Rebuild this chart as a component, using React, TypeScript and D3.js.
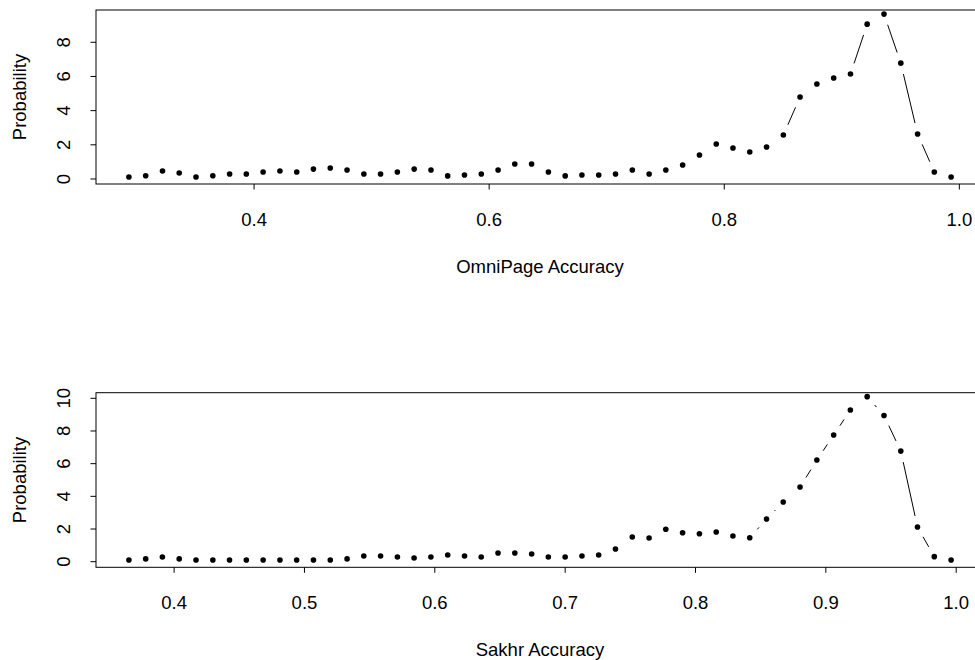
import React from "react";
import * as d3 from "d3";

// ---- Data ----
const omniX = [
  0.2935, 0.3078, 0.3221, 0.3363, 0.3506, 0.3649, 0.3792, 0.3934, 0.4077, 0.4220,
  0.4363, 0.4505, 0.4648, 0.4791, 0.4934, 0.5076, 0.5219, 0.5362, 0.5505, 0.5647,
  0.5790, 0.5933, 0.6076, 0.6218, 0.6361, 0.6504, 0.6647, 0.6789, 0.6932, 0.7075,
  0.7218, 0.7361, 0.7503, 0.7646, 0.7789, 0.7932, 0.8074, 0.8217, 0.8360, 0.8503,
  0.8645, 0.8788, 0.8931, 0.9074, 0.9216, 0.9359, 0.9502, 0.9645, 0.9787, 0.9930,
];
const omniY = [
  0.12, 0.19, 0.47, 0.35, 0.12, 0.19, 0.29, 0.29, 0.41, 0.47,
  0.41, 0.58, 0.64, 0.53, 0.29, 0.29, 0.41, 0.58, 0.53, 0.18,
  0.23, 0.29, 0.53, 0.88, 0.88, 0.41, 0.18, 0.23, 0.23, 0.29,
  0.53, 0.29, 0.53, 0.82, 1.40, 2.05, 1.81, 1.58, 1.87, 2.57,
  4.80, 5.56, 5.91, 6.14, 9.06, 9.65, 6.78, 2.63, 0.41, 0.12,
];
const sakhrX = [
  0.3653, 0.3782, 0.3910, 0.4039, 0.4168, 0.4297, 0.4425, 0.4554, 0.4683, 0.4812,
  0.4940, 0.5069, 0.5198, 0.5327, 0.5455, 0.5584, 0.5713, 0.5841, 0.5970, 0.6099,
  0.6228, 0.6356, 0.6485, 0.6614, 0.6743, 0.6871, 0.7000, 0.7129, 0.7257, 0.7386,
  0.7515, 0.7644, 0.7772, 0.7901, 0.8030, 0.8159, 0.8287, 0.8416, 0.8545, 0.8673,
  0.8802, 0.8931, 0.9060, 0.9188, 0.9317, 0.9446, 0.9575, 0.9703, 0.9832, 0.9961,
];
const sakhrY = [
  0.10, 0.17, 0.29, 0.17, 0.10, 0.10, 0.10, 0.10, 0.10, 0.10,
  0.10, 0.10, 0.10, 0.17, 0.35, 0.35, 0.29, 0.23, 0.29, 0.41,
  0.35, 0.29, 0.53, 0.53, 0.47, 0.29, 0.29, 0.35, 0.41, 0.78,
  1.51, 1.45, 1.99, 1.77, 1.71, 1.82, 1.57, 1.47, 2.61, 3.65,
  4.57, 6.22, 7.75, 9.28, 10.1, 8.95, 6.77, 2.12, 0.31, 0.10,
];
const omniXTicks = [0.4, 0.6, 0.8, 1.0];
const omniYTicks = [0, 2, 4, 6, 8];
const sakhrXTicks = [0.4, 0.5, 0.6, 0.7, 0.8, 0.9, 1.0];
const sakhrYTicks = [0, 2, 4, 6, 8, 10];

const W = 975;
const H = 660;
const FONT = "'Liberation Sans', Arial, Helvetica, sans-serif";
const FS = 18.5;

type PanelProps = {
  xs: number[];
  ys: number[];
  xTicks: number[];
  yTicks: number[];
  yDomain: [number, number];
  top: number;
  bottom: number;
  xLabel: string;
};

const LEFT = 96;
const RIGHT = 984;
const GAP = 11.25;

function Panel({ xs, ys, xTicks, yTicks, yDomain, top, bottom, xLabel }: PanelProps) {
  const [x0, x1] = d3.extent(xs) as [number, number];
  const pad = (x1 - x0) * 0.04;
  const x = d3.scaleLinear().domain([x0 - pad, x1 + pad]).range([LEFT, RIGHT]);
  const y = d3.scaleLinear().domain(yDomain).range([bottom, top]);
  const pts = xs.map((v, i) => [x(v), y(ys[i])] as [number, number]);
  const segs: string[] = [];
  for (let i = 0; i < pts.length - 1; i++) {
    const [ax, ay] = pts[i];
    const [bx, by] = pts[i + 1];
    const dx = bx - ax;
    const dy = by - ay;
    const d = Math.hypot(dx, dy);
    if (d > 2 * GAP) {
      const ux = dx / d;
      const uy = dy / d;
      const p = d3.path();
      p.moveTo(ax + ux * GAP, ay + uy * GAP);
      p.lineTo(bx - ux * GAP, by - uy * GAP);
      segs.push(p.toString());
    }
  }
  const fmtX = d3.format(".1f");
  const midY = (top + bottom) / 2;
  const midX = (LEFT + RIGHT) / 2;
  return (
    <g>
      <rect x={LEFT} y={top} width={RIGHT - LEFT} height={bottom - top} fill="none" stroke="#000" strokeWidth={1} />
      {segs.map((s, i) => (
        <path key={"s" + i} d={s} stroke="#000" strokeWidth={1} fill="none" />
      ))}
      {pts.map(([px, py], i) => (
        <circle key={"p" + i} cx={px} cy={py} r={2.8} fill="#000" />
      ))}
      {xTicks.map((t) => (
        <g key={"xt" + t}>
          <line x1={x(t)} x2={x(t)} y1={bottom} y2={bottom + 5.5} stroke="#000" />
          <text x={x(t)} y={bottom + 42} textAnchor="middle" fontFamily={FONT} fontSize={FS} fill="#000">
            {fmtX(t)}
          </text>
        </g>
      ))}
      {yTicks.map((t) => (
        <g key={"yt" + t}>
          <line x1={LEFT - 5.5} x2={LEFT} y1={y(t)} y2={y(t)} stroke="#000" />
          <text
            transform={`translate(70,${y(t)}) rotate(-90)`}
            textAnchor="middle"
            fontFamily={FONT}
            fontSize={FS}
            fill="#000"
          >
            {String(t)}
          </text>
        </g>
      ))}
      <text x={midX} y={bottom + 89} textAnchor="middle" fontFamily={FONT} fontSize={FS} fill="#000">
        {xLabel}
      </text>
      <text
        transform={`translate(26,${midY}) rotate(-90)`}
        textAnchor="middle"
        fontFamily={FONT}
        fontSize={FS}
        fill="#000"
      >
        Probability
      </text>
    </g>
  );
}

export default function App() {
  return (
    <svg
      width={W}
      height={H}
      style={{ position: "absolute", left: 0, top: 0, background: "#fff" }}
      viewBox={`0 0 ${W} ${H}`}
    >
      <rect width={W} height={H} fill="#fff" />
      <Panel
        xs={omniX}
        ys={omniY}
        xTicks={omniXTicks}
        yTicks={omniYTicks}
        yDomain={[-0.293, 9.889]}
        top={10}
        bottom={184}
        xLabel="OmniPage Accuracy"
      />
      <Panel
        xs={sakhrX}
        ys={sakhrY}
        xTicks={sakhrXTicks}
        yTicks={sakhrYTicks}
        yDomain={[-0.343, 10.343]}
        top={392.7}
        bottom={567.3}
        xLabel="Sakhr Accuracy"
      />
    </svg>
  );
}
